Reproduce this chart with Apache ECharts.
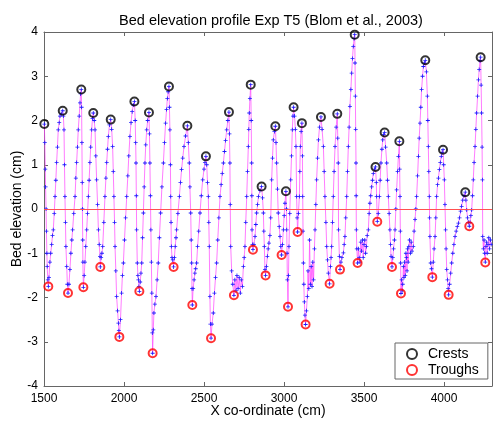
<!DOCTYPE html>
<html><head><meta charset="utf-8">
<script src="https://cdn.jsdelivr.net/npm/echarts@6/dist/echarts.min.js"></script>
<style>html,body{margin:0;padding:0;background:#fff}#c{width:493px;height:421px}</style>
</head><body><div id="c"></div>
<script>
const titleText = 'Bed elevation profile Exp T5 (Blom et al., 2003)';
const xLabel = 'X co-ordinate (cm)';
const yLabel = 'Bed elevation (cm)';
const xMin = 1500, xMax = 4300, xStep = 500;
const yMin = -4, yMax = 4, yStep = 1;

const profileX = [1502,1505,1508,1510,1513,1515,1518,1520,1524,1527,
1531,1537,1542,1548,1553,1558,1564,1569,1574,1579,1584,1589,1595,1600,1608,1617,
1621,1625,1628,1631,1634,1637,1642,1646,1650,
1656,1662,1668,1674,1679,1686,1694,1699,1704,1709,1714,1720,1725,1729,1733,
1735,1737,1739,1740,1742,1743,1746,
1751,1756,1761,1767,1772,1777,1782,1787,1792,1798,1803,1808,
1814,1819,1824,1829,1835,1840,1845,1850,1852,
1857,1862,1867,1874,1881,1887,1892,1897,1902,1909,1917,
1923,1929,1933,1937,1941,1944,1949,1954,1960,1965,1968,1971,
1978,1985,1990,1996,2003,2010,2017,2024,2030,2037,2044,2051,2058,2065,
2070,2073,2075,2077,2079,2083,2087,2090,2093,2096,
2101,2106,2111,2116,2121,2126,2131,2136,2142,2148,2156,
2159,2162,2165,2168,2171,2174,2177,2179,
2183,2187,2193,2200,2207,2214,2221,2229,2237,2246,2253,2260,2266,2271,2276,2281,
2284,2287,2290,2292,2294,2296,2300,2305,2310,
2315,2320,2325,2329,2337,2346,2353,2360,2367,2375,2385,2396,
2402,2408,2412,2417,2420,2423,2425,2427,
2432,2438,2443,2448,2454,2460,2467,2475,2483,2492,2500,2506,2512,
2517,2522,2527,2530,2533,2537,2540,2544,
2550,2558,2565,2572,2579,2586,2593,2600,2607,2614,2621,2628,2635,2642,2649,2656,
2659,2662,2664,2667,2673,2680,2687,2693,2700,2706,2713,2720,2727,2733,2740,2746,
2751,2756,2761,2767,2772,2777,2780,2783,2787,2792,
2795,2798,2799,2800,2803,2806,
2812,2819,2824,2829,2835,2840,2850,2860,
2866,2871,2874,2877,2881,2885,
2890,2896,2901,2906,2912,2917,2923,2928,2933,2940,2946,
2950,2954,2959,2964,2970,2975,2980,2985,
2990,2996,3001,3006,3012,
3015,3017,3019,3021,3025,
3028,3031,3036,3042,3047,3052,3056,3060,
3066,3071,3075,3079,3082,3085,
3090,3096,3099,3102,3107,3112,
3115,3117,3119,3121,3124,3127,3131,3135,
3140,3146,3150,3155,3160,3165,3170,3175,3180,3185,3190,
3194,3199,3204,3210,3215,3222,3231,
3238,3246,3251,3256,3262,3267,3272,3277,3285,
3290,3294,3298,3303,3308,3313,3319,3326,3333,
3336,3339,3341,3346,3350,
3356,3362,3371,3376,3381,3386,3392,3397,3402,3407,3412,3418,3423,3428,3433,3438,3442,
3444,3446,3448,3450,3451,3452,3455,3460,
3465,3470,3475,3480,3485,3490,3495,3500,3505,3510,3515,3520,3527,
3532,3537,3542,3548,3553,3558,3565,3572,
3577,3579,3583,
3589,3596,3601,3606,3612,3617,3623,3629,
3635,3642,3647,3652,3657,3662,3666,3669,3675,
3680,3685,3690,3694,3699,3704,3710,3715,3721,
3723,3725,3727,3729,3731,
3735,3739,3742,3746,3750,3754,3758,3762,3765,3769,3772,3776,3780,3785,3790,3795,3800,3808,
3813,3819,3824,3829,3835,3840,3845,3850,3855,3860,3866,3871,3877,3883,
3890,3896,3899,3902,3905,3908,3910,3912,3917,3922,3927,
3933,3938,3944,3949,3954,3960,3965,3971,3977,3983,3988,3994,
3998,4002,4006,4010,4013,4017,4022,4026,4029,
4035,4042,4048,4055,4062,4069,4076,4083,4090,4097,4104,4110,4117,4125,4133,
4137,4142,4147,4152,4158,
4163,4168,4173,4178,4183,4188,4194,4199,4204,4210,4215,4220,4225,4229,
4232,4235,4238,4240,4242,4246,4250,4254,4258,4262,4266,4270,4275,4280,4285,4290,4295];

const profileY = [1.92,1.5,0.9,0.5,0,-0.5,-1.0,-1.3,-1.6,-1.75,
-1.55,-1.2,-1.0,-0.8,-0.6,-0.47,-0.1,0.28,0.65,1.05,1.4,1.79,1.95,2.1,2.15,2.22,
2.1,1.79,1.0,0.28,-0.3,-0.85,-1.3,-1.7,-1.9,
-1.7,-1.37,-1.0,-0.7,-0.47,-0.1,0.28,0.7,1.05,1.4,1.79,2.1,2.4,2.6,2.7,
2.3,1.5,0.6,0,-0.7,-1.2,-1.77,
-1.5,-1.2,-0.85,-0.47,-0.1,0.28,0.65,1.05,1.4,1.79,2.05,2.17,
2.0,1.79,1.2,0.66,0.1,-0.47,-0.8,-1.07,-1.31,
-1.1,-1.0,-0.85,-0.3,0.28,0.7,1.05,1.35,1.64,1.9,2.02,
1.8,1.41,0.85,0.28,-0.3,-0.85,-1.4,-1.98,-2.3,-2.58,-2.75,-2.89,
-2.5,-1.9,-1.5,-1.22,-0.7,-0.2,0.28,0.75,1.2,1.64,1.95,2.2,2.35,2.43,
2.0,1.5,1.04,0.3,-0.47,-1.22,-1.5,-1.6,-1.75,-1.86,
-1.65,-1.45,-1.22,-0.65,-0.09,0.5,1.04,1.45,1.79,2.0,2.18,
1.7,1.04,0.3,-0.47,-1.2,-1.9,-2.8,-3.26,
-2.73,-2.35,-2.15,-1.98,-1.6,-1.22,-0.65,-0.09,0.5,1.04,1.5,1.94,2.25,2.5,2.65,2.77,
2.3,1.79,1.0,0.28,-0.3,-0.85,-1.1,-1.15,-1.31,
-1.1,-0.85,-0.65,-0.47,-0.1,0.28,0.6,0.89,1.15,1.41,1.65,1.88,
1.5,1.04,0.5,-0.09,-0.7,-1.22,-1.8,-2.17,
-1.8,-1.6,-1.45,-1.35,-1.22,-0.85,-0.5,-0.09,0.3,0.66,0.9,1.05,1.19,
1.0,0.6,0.28,-0.3,-0.85,-1.98,-2.6,-2.92,
-2.6,-2.35,-1.9,-1.55,-1.22,-0.7,-0.2,0.28,0.55,0.8,1.04,1.3,1.55,1.79,2.0,2.19,
1.7,1.04,0.1,-0.85,-1.4,-1.7,-1.95,-1.6,-1.85,-1.5,-1.8,-1.55,-1.9,-1.6,-1.75,-1.3,
-1.1,-0.85,-0.3,0.28,0.85,1.41,1.8,2.17,2.5,2.81,
2.0,1.04,0.3,-0.47,-0.8,-0.92,
-0.8,-0.62,-0.35,-0.09,0.1,0.28,0.42,0.51,
0.25,-0.09,-0.5,-0.85,-1.37,-1.5,
-1.3,-1.07,-0.9,-0.77,-0.6,-0.2,0.66,1.15,1.56,1.75,1.87,
1.5,1.04,0.45,-0.09,-0.4,-0.62,-0.85,-1.04,
-0.8,-0.47,-0.15,0.13,0.40,
0.0,-0.47,-1.0,-1.6,-2.21,
-1.5,-0.85,-0.1,0.66,1.2,1.79,2.1,2.3,
2.1,1.8,1.41,0.28,-0.2,-0.52,
-0.1,0.28,0.85,1.41,1.75,1.94,
1.2,0.28,-0.5,-1.22,-1.7,-2.1,-2.4,-2.61,
-2.3,-1.98,-1.4,-1.8,-0.7,-1.7,-1.3,-1.75,-1.2,-1.6,-0.9,
-0.47,0.1,0.66,1.15,1.56,1.85,2.08,
1.8,1.41,0.85,0.28,-0.3,-0.85,-1.15,-1.45,-1.69,
-1.3,-1.1,-0.85,-0.3,0.28,0.85,1.41,1.85,2.15,
1.6,1.04,-0.47,-1.07,-1.37,
-1.2,-1.1,-0.99,-0.8,-0.62,-0.2,0.28,0.85,1.41,1.85,2.32,2.7,3.07,3.4,3.67,3.85,3.94,
3.3,2.55,1.8,1.04,0.3,-0.47,-0.9,-1.22,
-0.9,-1.1,-1.2,-0.75,-0.95,-0.7,-1.1,-0.8,-0.7,-1.0,-0.85,-0.6,-0.47,
-0.1,0.13,0.3,0.5,0.65,0.8,0.9,0.95,
0.6,0.28,-0.28,
-0.1,0.28,0.65,1.04,1.35,1.56,1.68,1.73,
1.4,1.04,0.65,0.28,-0.1,-0.47,-0.8,-1.07,-1.31,
-1.1,-0.9,-0.7,-0.47,0.0,0.43,0.85,1.19,1.53,
0.9,0.28,-0.5,-1.22,-1.91,
-1.6,-1.85,-1.7,-1.3,-1.55,-1.2,-1.5,-1.0,-1.1,-1.4,-0.9,-1.2,-0.85,-0.7,-1.0,-0.75,-0.95,-0.85,
-0.5,-0.24,0.0,0.28,0.75,1.19,1.6,1.94,2.3,2.7,3.0,3.22,3.3,3.36,
3.1,2.55,2.0,1.41,0.85,0.28,-0.2,-0.62,-1.22,-1.35,-1.54,
-1.2,-0.9,-0.62,-0.2,0.28,0.55,0.7,0.89,1.05,1.19,1.28,1.34,
1.0,0.66,0.1,-0.47,-0.9,-1.37,-1.6,-1.8,-1.94,
-1.7,-1.45,-1.22,-1.0,-0.8,-0.62,-0.5,-0.4,-0.32,-0.2,-0.05,0.06,0.2,0.3,0.38,
0.2,-0.02,-0.2,-0.3,-0.39,
-0.3,-0.15,-0.02,0.3,0.66,1.05,1.41,1.8,2.17,2.55,2.92,3.15,3.35,3.43,
2.8,2.17,1.4,0.66,-0.62,-0.9,-0.7,-1.0,-1.2,-0.85,-0.75,-1.0,-0.8,-0.65,-0.9,-0.7,-0.8];

const crestX = [1502,1617,1733,1808,1917,2065,2156,2281,2396,2512,2656,2792,2860,2946,3012,3060,3112,3231,3333,3442,3572,3629,3721,3883,3994,4133,4229];
const crestY = [1.92,2.22,2.70,2.17,2.02,2.43,2.18,2.77,1.88,1.19,2.19,2.81,0.51,1.87,0.40,2.30,1.94,2.08,2.15,3.94,0.95,1.73,1.53,3.36,1.34,0.38,3.43];
const troughX = [1527,1650,1746,1852,1971,2096,2179,2310,2427,2544,2687,2806,2885,2985,3025,3085,3135,3285,3350,3460,3583,3675,3731,3927,4029,4158,4258];
const troughY = [-1.75,-1.90,-1.77,-1.31,-2.89,-1.86,-3.26,-1.31,-2.17,-2.92,-1.95,-0.92,-1.50,-1.04,-2.21,-0.52,-2.61,-1.69,-1.37,-1.22,-0.29,-1.31,-1.91,-1.54,-1.94,-0.39,-1.21];
const legendNames = ['Crests', 'Troughs'];

const zip = (a, b) => a.map((v, i) => [v, b[i]]);
const font = 'Liberation Sans, Arial, Helvetica, sans-serif';
const axisCol = '#666';

const chart = echarts.init(document.getElementById('c'), null, {renderer: 'canvas'});
const mkX = (pos, show) => ({
  type: 'value', position: pos, min: xMin, max: xMax, interval: xStep,
  axisLine: {show: true, onZero: false, lineStyle: {color: axisCol, width: 1}},
  axisTick: {show: true, inside: true, length: 4, lineStyle: {color: axisCol}},
  axisLabel: {show: show, color: '#000', fontSize: 12, fontFamily: font, margin: 7, showMaxLabel: false,
    formatter: v => String(v)},
  splitLine: {show: false},
  name: show ? xLabel : '', nameLocation: 'middle', nameGap: 18, nameMoveOverlap: false,
  nameTextStyle: {color: '#000', fontSize: 14, fontFamily: font}
});
const mkY = (pos, show) => ({
  type: 'value', position: pos, min: yMin, max: yMax, interval: yStep,
  axisLine: {show: true, onZero: false, lineStyle: {color: axisCol, width: 1}},
  axisTick: {show: true, inside: true, length: 4, lineStyle: {color: axisCol}},
  axisLabel: {show: show, color: '#000', fontSize: 12, fontFamily: font, margin: 6},
  splitLine: {show: false},
  name: show ? yLabel : '', nameLocation: 'middle', nameGap: 20, nameRotate: 90, nameMoveOverlap: false,
  nameTextStyle: {color: '#000', fontSize: 14, fontFamily: font}
});

chart.setOption({
  animation: false,
  backgroundColor: '#fff',
  title: {text: titleText, left: 266, top: 8, textAlign: 'center',
    textStyle: {fontSize: 14.5, fontWeight: 'normal', color: '#000', fontFamily: font}},
  grid: {left: 44, right: 1, top: 32, bottom: 35, containLabel: false, outerBoundsMode: 'none'},
  xAxis: [mkX('bottom', true), mkX('top', false)],
  yAxis: [mkY('left', true), mkY('right', false)],
  legend: {
    orient: 'vertical', left: 395, top: 343,
    padding: [4, 9, 2, 11], itemGap: 2, itemWidth: 22, itemHeight: 10,
    backgroundColor: '#fff', borderColor: axisCol, borderWidth: 1,
    textStyle: {fontSize: 14, color: '#000', fontFamily: font},
    data: [
      {name: legendNames[0], icon: 'circle', itemStyle: {color: 'rgba(0,0,0,0)', borderColor: '#000', borderWidth: 2}},
      {name: legendNames[1], icon: 'circle', itemStyle: {color: 'rgba(0,0,0,0)', borderColor: '#ff0000', borderWidth: 2}}
    ]
  },
  series: [
    {
      type: 'line', name: 'profile', data: zip(profileX, profileY),
      showAllSymbol: true, symbol: 'path://M-0.6,-3H0.6V-0.6H3V0.6H0.6V3H-0.6V0.6H-3V-0.6H-0.6Z', symbolSize: 4,
      itemStyle: {color: '#1a1aff'},
      lineStyle: {color: '#ff44ff', width: 0.7},
      z: 3, silent: true,
      markLine: {silent: true, symbol: 'none', label: {show: false},
        lineStyle: {color: '#ff5050', width: 1, type: 'solid'},
        data: [{yAxis: 0}]}
    },
    {
      type: 'scatter', name: legendNames[0], data: zip(crestX, crestY),
      symbol: 'circle', symbolSize: 8,
      itemStyle: {color: 'rgba(0,0,0,0)', borderColor: '#000', borderWidth: 2}, z: 4
    },
    {
      type: 'scatter', name: legendNames[1], data: zip(troughX, troughY),
      symbol: 'circle', symbolSize: 8,
      itemStyle: {color: 'rgba(0,0,0,0)', borderColor: '#ff0000', borderWidth: 2}, z: 4
    }
  ]
});
</script></body></html>
